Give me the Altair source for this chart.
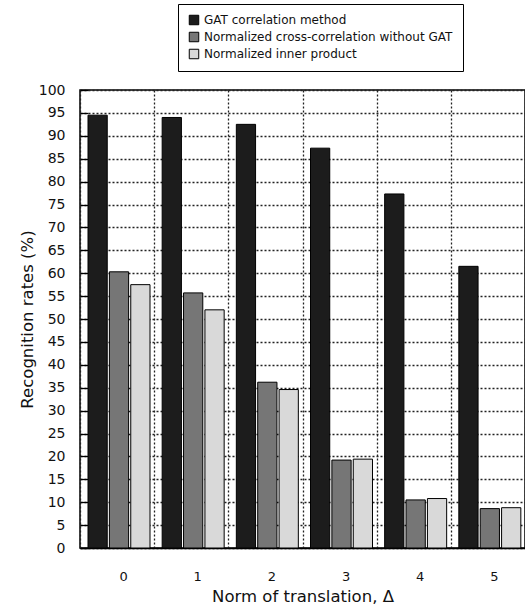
import altair as alt
import pandas as pd

# Recognition rates (%) for each norm of translation and each matching method
deltas = ["0", "1", "2", "3", "4", "5"]
methods = [
    "GAT correlation method",
    "Normalized cross-correlation without GAT",
    "Normalized inner product",
]
gat_rates = [94.5, 94.0, 92.5, 87.3, 77.3, 61.5]
ncc_rates = [60.3, 55.7, 36.2, 19.2, 10.5, 8.6]
nip_rates = [57.5, 52.0, 34.6, 19.4, 10.8, 8.8]
y_ticks = list(range(0, 101, 5))
method_fills = ["#1c1c1c", "#767676", "#d9d9d9"]

rows = []
for m, vals in zip(methods, [gat_rates, ncc_rates, nip_rates]):
    for d, v in zip(deltas, vals):
        rows.append({"delta": d, "method": m, "rate": v})
df = pd.DataFrame(rows)

W, H = 445, 458
FONT = "DejaVu Sans"

chart = alt.Chart(df).mark_bar(stroke="black", strokeWidth=1).encode(
    x=alt.X(
        "delta:N",
        sort=deltas,
        scale=alt.Scale(paddingInner=0, paddingOuter=0),
        axis=alt.Axis(
            title="Norm of translation, Δ",
            labelAngle=0,
            labelOffset=6,
            labelPadding=22,
            labelFontSize=13,
            labelColor="#111",
            ticks=False,
            grid=True,
            gridDash=[2, 2],
            gridColor="#222",
            gridWidth=1.3,
            tickBand="extent",
            domainColor="black",
            domainWidth=1.5,
            titleFontSize=16.5,
            titleFontWeight="normal",
            titleColor="#111",
            titlePadding=5,
        ),
    ),
    xOffset=alt.XOffset(
        "method:N",
        sort=methods,
        scale=alt.Scale(domain=methods, range=[8, 70], paddingInner=0.1, paddingOuter=0),
    ),
    y=alt.Y(
        "rate:Q",
        scale=alt.Scale(domain=[0, 100], nice=False),
        axis=alt.Axis(
            values=y_ticks,
            title="Recognition rates (%)",
            titleFontSize=16.5,
            titleFontWeight="normal",
            titleColor="#111",
            titleBaseline="middle",
            titleX=-61,
            titleY=H / 2,
            labelFontSize=14,
            labelColor="#111",
            labelPadding=15,
            offset=-8,
            tickSize=8,
            tickColor="black",
            tickWidth=1.3,
            domain=False,
            grid=True,
            gridDash=[2, 2],
            gridColor="#222",
            gridWidth=1.3,
        ),
    ),
    color=alt.Color(
        "method:N",
        sort=methods,
        scale=alt.Scale(domain=methods, range=method_fills),
        legend=alt.Legend(
            title=None,
            orient="none",
            legendX=98,
            legendY=-86,
            symbolType="square",
            symbolSize=90,
            symbolStrokeColor="black",
            symbolStrokeWidth=1,
            labelFontSize=12,
            labelColor="#111",
            labelLimit=400,
            rowPadding=3,
            padding=10,
            strokeColor="black",
            fillColor="white",
        ),
    ),
).properties(
    width=W,
    height=H,
    autosize=alt.AutoSizeParams(type="none"),
    padding={"left": 80, "top": 90, "right": 0, "bottom": 58},
).configure(
    font=FONT,
).configure_view(
    stroke="black",
    strokeWidth=1.5,
)

chart.save("out.html", embed_options={"renderer": "svg", "actions": False})
